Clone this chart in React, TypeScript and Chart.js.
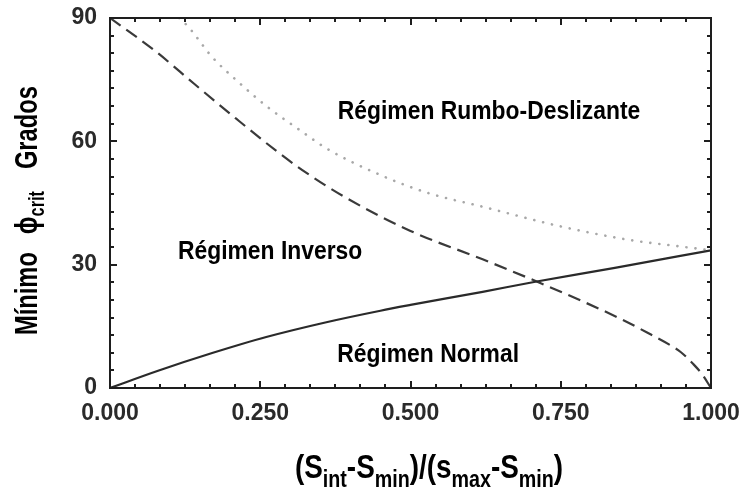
import { useEffect, useRef } from "react";
import { Chart, registerables } from "chart.js";

Chart.register(...registerables);

// ---- data ----
const normalX = [0, 0.08, 0.17, 0.26, 0.36, 0.45, 0.5, 0.62, 0.71, 0.84, 1.0];
const normalY = [0, 4.2, 8.5, 12.4, 16.0, 18.8, 20.2, 23.4, 25.9, 29.2, 33.5];

const inverseX = [0, 0.075, 0.14, 0.21, 0.28, 0.32, 0.39, 0.5, 0.62, 0.71, 0.85, 0.9, 0.93, 0.95, 0.97, 0.985, 1.0];
const inverseY = [90, 82, 74, 65.5, 57.3, 53, 46.5, 38.2, 31.3, 25.9, 16.8, 13.0, 10.6, 8.7, 5.9, 3.4, 0];

const strikeX = [0.115, 0.13, 0.17, 0.21, 0.26, 0.32, 0.36, 0.45, 0.53, 0.62, 0.75, 0.865, 0.95, 1.0];
const strikeY = [90, 87.9, 80.5, 74.9, 68.6, 62.3, 58.3, 51.8, 47.4, 44.1, 39.3, 36.0, 34.4, 33.5];

const xTickValues = [0, 0.25, 0.5, 0.75, 1];
const yTickValues = [0, 30, 60, 90];

const regionNames = ["Régimen Rumbo-Deslizante", "Régimen Inverso", "Régimen Normal"];
const regionAnchorX = [0.379, 0.113, 0.378];
const regionAnchorY = [67.1, 33.1, 8.0];

const FONT = '"Liberation Sans", Arial, Helvetica, sans-serif';

type Seg = { t: string; size: number; dy: number };

function segWidth(ctx: CanvasRenderingContext2D, segs: Seg[], sx: number) {
  let w = 0;
  for (const s of segs) {
    ctx.font = `bold ${s.size}px ${FONT}`;
    w += ctx.measureText(s.t).width * sx;
  }
  return w;
}

function drawSegs(ctx: CanvasRenderingContext2D, segs: Seg[], x: number, y: number, sx: number) {
  let cx = x;
  for (const s of segs) {
    ctx.font = `bold ${s.size}px ${FONT}`;
    ctx.save();
    ctx.translate(cx, y + s.dy);
    ctx.scale(sx, 1);
    ctx.fillText(s.t, 0, 0);
    ctx.restore();
    cx += ctx.measureText(s.t).width * sx;
  }
  return cx;
}

const decoPlugin = {
  id: "deco",
  afterDraw(chart: any) {
    const ctx: CanvasRenderingContext2D = chart.ctx;
    const a = chart.chartArea;
    const xs = chart.scales.x;
    const ys = chart.scales.y;
    ctx.save();
    ctx.globalAlpha = 1;
    // frame (filled rectangles)
    ctx.fillStyle = "#1e1e1e";
    const L = a.left - 1;
    const R = a.right - 1;
    const T = a.top - 1;
    const B = a.bottom - 1;
    ctx.fillRect(L, T, R - L + 2, 2);
    ctx.fillRect(L, B, R - L + 2, 2);
    ctx.fillRect(L, T, 2, B - T + 2);
    ctx.fillRect(R, T, 2, B - T + 2);
    // inward ticks
    const xSub = 6;
    for (let i = 0; i <= 4 * xSub; i++) {
      const v = i / (4 * xSub);
      const px = Math.round(xs.getPixelForValue(v)) - 1;
      const len = i % xSub === 0 ? 7 : 4;
      ctx.fillRect(px, a.bottom - len, 2, len);
      ctx.fillRect(px, a.top, 2, len);
    }
    const ySub = 7;
    for (let i = 0; i <= 3 * ySub; i++) {
      const v = (i * 90) / (3 * ySub);
      const py = Math.round(ys.getPixelForValue(v)) - 1;
      const len = i % ySub === 0 ? 7 : 4;
      ctx.fillRect(a.left, py, len, 2);
      ctx.fillRect(a.right - len, py, len, 2);
    }

    // region labels
    ctx.fillStyle = "#000";
    ctx.textBaseline = "middle";
    ctx.textAlign = "left";
    for (let i = 0; i < regionNames.length; i++) {
      const px = xs.getPixelForValue(regionAnchorX[i]);
      const py = ys.getPixelForValue(regionAnchorY[i]);
      drawSegs(ctx, [{ t: regionNames[i], size: 26, dy: 0 }], px, py, 0.88);
    }

    // x-axis title
    ctx.textBaseline = "alphabetic";
    const M = 34;
    const S = 24;
    const D = 9;
    const xt: Seg[] = [
      { t: "(S", size: M, dy: 0 },
      { t: "int", size: S, dy: D },
      { t: "-S", size: M, dy: 0 },
      { t: "min", size: S, dy: D },
      { t: ")/(s", size: M, dy: 0 },
      { t: "max", size: S, dy: D },
      { t: "-S", size: M, dy: 0 },
      { t: "min", size: S, dy: D },
      { t: ")", size: M, dy: 0 },
    ];
    const xsx = 0.82;
    const w = segWidth(ctx, xt, xsx);
    drawSegs(ctx, xt, 429 - w / 2, 478, xsx);

    // y-axis title (rotated)
    ctx.save();
    ctx.rotate(-Math.PI / 2);
    const ysx = 0.74;
    const YM = 32;
    let pos = -335;
    pos = drawSegs(ctx, [{ t: "Mínimo", size: YM, dy: 0 }], pos, 37, ysx);
    pos += 18;
    pos = drawSegs(ctx, [{ t: "ϕ", size: YM, dy: 0 }], pos, 37, ysx);
    pos = drawSegs(ctx, [{ t: "crit", size: 22, dy: 7 }], pos, 37, ysx);
    pos += 22;
    drawSegs(ctx, [{ t: "Grados", size: YM, dy: 0 }], pos, 37, ysx);
    ctx.restore();

    ctx.restore();
  },
};

export default function App() {
  const ref = useRef<HTMLCanvasElement>(null);
  useEffect(() => {
    if (!ref.current) return;
    const toPts = (xs: number[], ys: number[]) => xs.map((x, i) => ({ x, y: ys[i] }));
    const chart = new Chart(ref.current, {
      type: "scatter",
      data: {
        datasets: [
          {
            label: "Normal",
            data: toPts(normalX, normalY),
            showLine: true,
            borderColor: "#2a2a2a",
            borderWidth: 2.2,
            pointRadius: 0,
            cubicInterpolationMode: "monotone",
          },
          {
            label: "Inverso",
            data: toPts(inverseX, inverseY),
            showLine: true,
            borderColor: "#3a3a3a",
            borderWidth: 2.2,
            borderDash: [13, 7],
            pointRadius: 0,
            cubicInterpolationMode: "monotone",
          },
          {
            label: "Rumbo-Deslizante",
            data: toPts(strikeX, strikeY),
            showLine: true,
            borderColor: "#a8a8a8",
            borderWidth: 2.6,
            borderDash: [0.1, 9],
            borderCapStyle: "round",
            pointRadius: 0,
            cubicInterpolationMode: "monotone",
          },
        ],
      },
      options: {
        responsive: false,
        animation: false,
        events: [],
        layout: { padding: { left: 0, right: 33, top: 18, bottom: 0 } },
        plugins: { legend: { display: false }, tooltip: { enabled: false } },
        scales: {
          x: {
            type: "linear",
            min: 0,
            max: 1,
            afterFit: (s: any) => {
              s.height = 103;
              s.paddingLeft = 0;
              s.paddingRight = 0;
            },
            afterBuildTicks: (s: any) => {
              s.ticks = xTickValues.map((v) => ({ value: v }));
            },
            grid: { display: false, drawTicks: false },
            border: { display: false },
            ticks: {
              padding: 12,
              color: "#2a2a2a",
              font: { family: FONT, size: 23, weight: "bold" },
              callback: (v: any) => Number(v).toFixed(3),
              maxRotation: 0,
            },
          },
          y: {
            type: "linear",
            min: 0,
            max: 90,
            afterFit: (s: any) => {
              s.width = 110;
              s.paddingTop = 0;
              s.paddingBottom = 0;
            },
            afterBuildTicks: (s: any) => {
              s.ticks = yTickValues.map((v) => ({ value: v }));
            },
            grid: { display: false, drawTicks: false },
            border: { display: false },
            ticks: {
              padding: 13,
              color: "#2a2a2a",
              font: { family: FONT, size: 23, weight: "bold" },
              callback: (v: any) => String(v),
            },
          },
        },
      },
      plugins: [decoPlugin],
    } as any);
    return () => chart.destroy();
  }, []);
  return (
    <div style={{ position: "fixed", left: 0, top: 0, width: 744, height: 491, background: "#fff" }}>
      <canvas ref={ref} width={744} height={491} style={{ width: 744, height: 491 }} />
    </div>
  );
}
